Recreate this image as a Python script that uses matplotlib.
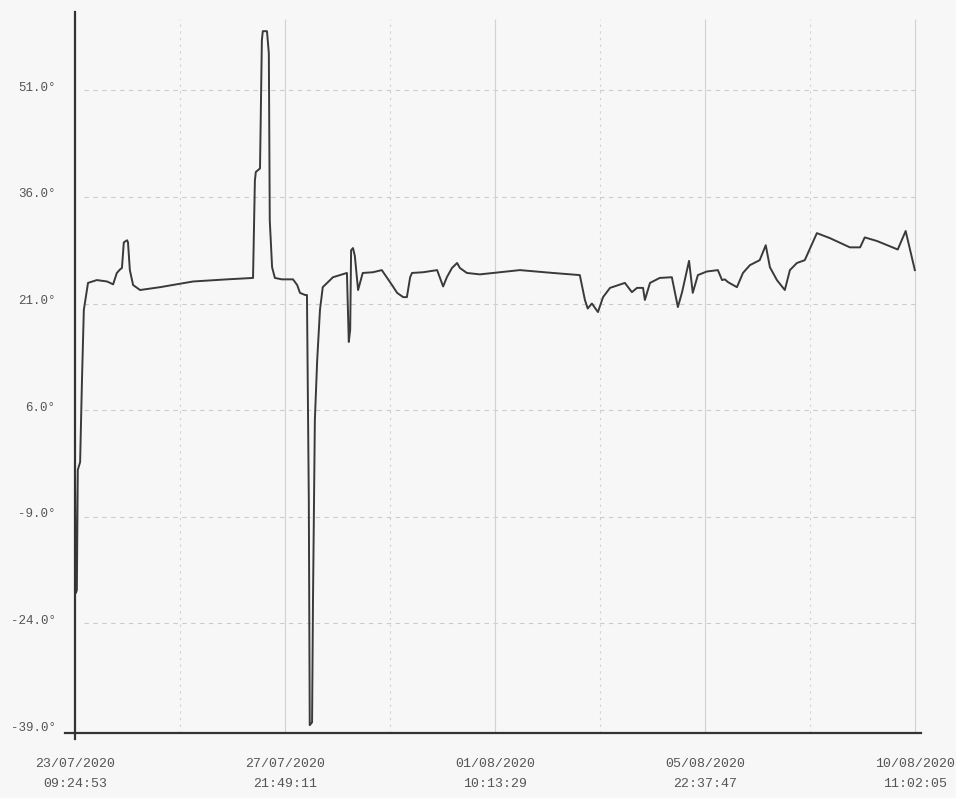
import matplotlib
matplotlib.use('Agg')
import matplotlib.pyplot as plt
import matplotlib.transforms as mtransforms
from datetime import datetime, timedelta

start = datetime(2020, 7, 23, 9, 24, 53)
end = datetime(2020, 8, 10, 11, 2, 5)
span = (end - start).total_seconds() / 86400.0

# days since start, temperature in degrees
days = [0.00, 0.02, 0.04, 0.06, 0.11, 0.15, 0.19, 0.28, 0.47, 0.69,
        0.82, 0.90, 0.97, 1.01, 1.05, 1.12, 1.14, 1.18, 1.25, 1.40,
        1.83, 2.54, 3.27, 3.83, 3.87, 3.89, 3.98, 4.02, 4.04, 4.13,
        4.17, 4.19, 4.24, 4.30, 4.45, 4.69, 4.78, 4.84, 4.95, 4.99,
        5.03, 5.05, 5.10, 5.12, 5.16, 5.21, 5.27, 5.33, 5.55, 5.85,
        5.89, 5.92, 5.94, 5.98, 6.02, 6.09, 6.19, 6.41, 6.60, 6.82,
        6.93, 7.06, 7.14, 7.21, 7.25, 7.49, 7.79, 7.92, 8.00, 8.11,
        8.22, 8.28, 8.43, 8.71, 9.57, 10.28, 10.86, 10.97, 11.03, 11.12,
        11.25, 11.36, 11.51, 11.83, 11.98, 12.09, 12.22, 12.26, 12.37, 12.58,
        12.84, 12.97, 13.06, 13.21, 13.29, 13.40, 13.59, 13.83, 13.92, 13.98,
        14.05, 14.24, 14.37, 14.52, 14.73, 14.86, 14.95, 15.10, 15.27, 15.38,
        15.53, 15.70, 15.96, 16.24, 16.67, 16.89, 16.99, 17.25, 17.70, 17.87,
        18.0675]
temps = [-2.0, -19.7, -19.3, -2.4, -1.3, 10.2, 20.1, 23.9, 24.3, 24.1,
         23.7, 25.3, 25.8, 26.0, 29.6, 29.9, 29.6, 25.7, 23.6, 22.9,
         23.3, 24.1, 24.4, 24.6, 38.3, 39.5, 40.0, 58.0, 59.3, 59.3,
         56.2, 32.7, 26.1, 24.6, 24.4, 24.4, 23.6, 22.5, 22.2, 22.2,
         -6.7, -38.3, -37.9, -20.7, 4.6, 13.0, 20.1, 23.3, 24.7, 25.3,
         15.6, 17.3, 28.5, 28.8, 27.7, 22.9, 25.3, 25.4, 25.7, 23.6,
         22.5, 21.9, 21.9, 24.7, 25.3, 25.4, 25.7, 23.4, 24.7, 26.0,
         26.7, 26.0, 25.3, 25.1, 25.7, 25.3, 25.0, 21.5, 20.3, 21.0,
         19.8, 21.9, 23.2, 23.9, 22.6, 23.2, 23.2, 21.5, 23.9, 24.6,
         24.7, 20.5, 22.6, 27.0, 22.5, 25.0, 25.5, 25.7, 24.3, 24.4,
         24.0, 23.3, 25.3, 26.4, 27.1, 29.2, 26.1, 24.3, 22.9, 25.7,
         26.7, 27.1, 30.9, 30.2, 28.9, 28.9, 30.3, 29.8, 28.6, 31.2,
         25.7]

y_ticks = [51.0, 36.0, 21.0, 6.0, -9.0, -24.0, -39.0]
x_ticks = [span * k / 4 for k in range(5)]
x_labels = [(start + timedelta(days=d)).strftime('%d/%m/%Y\n%H:%M:%S') for d in x_ticks]

bg = '#f7f7f7'
fig = plt.figure(figsize=(9.56, 7.98), dpi=100, facecolor=bg)
ax = fig.add_axes([75/956, 65/798, 846/956, 721/798], facecolor=bg)

ax.set_xlim(0, 18.2)
ax.set_ylim(-39.4, 62)

# grid
for y in y_ticks[:-1]:
    ax.hlines(y, 0.2, span, colors='#cccccc', linestyles=(0, (4, 4)), linewidth=0.8)
for k in range(1, 9):
    x = span * k / 8
    if k % 2 == 0:
        ax.vlines(x, -39.4, 61, colors='#d2d2d2', linewidth=0.8)
    else:
        ax.vlines(x, -39.4, 61, colors='#d0d0d0', linestyles=(0, (2, 4)), linewidth=0.8)

ax.plot(days, temps, color='#3a3a3a', linewidth=1.4, solid_joinstyle='round')

for s in ['top', 'right']:
    ax.spines[s].set_visible(False)
for s in ['left', 'bottom']:
    ax.spines[s].set_color('#333333')
    ax.spines[s].set_linewidth(1.6)

# little overhang of axis lines at origin
ax.plot([-0.012, 0], [0, 0], transform=ax.transAxes, color='#333333', lw=1.6, clip_on=False)
ax.plot([0, 0], [-0.008, 0], transform=ax.transAxes, color='#333333', lw=1.6, clip_on=False)

ax.set_yticks(y_ticks)
ax.set_yticklabels(['%.1f\u00b0' % v for v in y_ticks], family='Liberation Mono',
                   fontsize=9, color='#555555')
ax.set_xticks(x_ticks)
ax.set_xticklabels(x_labels, family='Liberation Mono', fontsize=9.5,
                   color='#555555', linespacing=1.85)
ax.tick_params(axis='y', length=0, pad=14)
ax.tick_params(axis='x', length=0, pad=18)

offset = mtransforms.ScaledTranslation(0, 4/100, fig.dpi_scale_trans)
for lbl in ax.get_yticklabels():
    lbl.set_transform(lbl.get_transform() + offset)

fig.savefig('out.png', dpi=100, facecolor=bg)
